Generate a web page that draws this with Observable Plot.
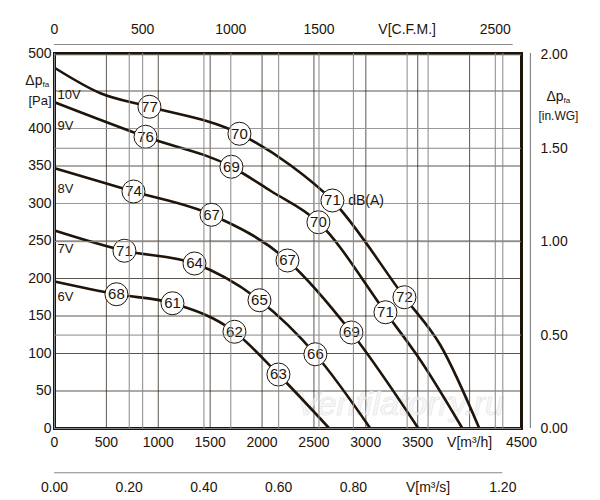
<!DOCTYPE html><html><head><meta charset="utf-8">
<script src="https://cdn.jsdelivr.net/npm/d3@7"></script>
<script src="https://cdn.jsdelivr.net/npm/@observablehq/plot@0.6"></script>
<style>body{margin:0;background:#fff}</style></head><body><div id="c"></div><script>
const curveNames=["10V","9V","8V","7V","6V"];
const flow={
"10V":[0,443,915,1782,2274,2678,3372,3719,4094],
"9V":[0,877,1705,2081,2543,3189,3526,3931],
"8V":[0,761,1513,2245,2861,3507],
"7V":[0,674,1349,1975,2514,3044],
"6V":[0,597,1137,1734,2158,2649]};
const pres={
"10V":[481,447,429,393,351,304,175,111,0],
"9V":[435,389,349,317,275,155,91,0],
"8V":[347,316,285,224,128,0],
"7V":[264,237,220,171,99,0],
"6V":[196,179,167,129,72,0]};
const dbX=[915,1782,2678,3372, 877,1705,2543,3189, 761,1513,2245,2861, 674,1349,1975,2514, 597,1137,1734,2158];
const dbY=[429,393,304,175, 389,349,275,155, 316,285,224,128, 237,220,171,99, 179,167,129,72];
const dbT=["77","70","71","72","76","69","70","71","74","67","67","69","71","64","65","66","68","61","62","63"];
const vY=[445,403,320,240,175];
const xTicks=[0,500,1000,1500,2000,2500,3000,3500,4500];
const cfmTicks=[0,500,1000,1500,2000,2500];
const m3sTicks=[0,0.2,0.4,0.6,0.8,1.0,1.2];
const wgTicks=[0,0.5,1,1.5,2];
const pts=curveNames.flatMap(n=>flow[n].map((x,i)=>({n,x,y:pres[n][i]})));
const col="#1e140a", font="Liberation Sans, Arial, sans-serif";
const CFM=1.699, M3S=3600, WG=249.09;
const topY=512, botY=-59, rightX=4586;
const txt=(data,o)=>Plot.text(data,{fontSize:14,fill:col,...o});
const plot=Plot.plot({width:600,height:500,marginLeft:54,marginRight:79,marginTop:53,marginBottom:72,
 style:{fontFamily:font,fontSize:14,color:col,overflow:"visible"},
 x:{domain:[0,4500],axis:null},y:{domain:[0,500],axis:null},
 marks:[
  Plot.gridX(d3.range(500,4500,500),{stroke:col,strokeOpacity:0.9,strokeWidth:0.8}),
  Plot.gridY(d3.range(50,500,50),{stroke:col,strokeOpacity:0.9,strokeWidth:0.8}),
  Plot.gridY([400,300],{stroke:"#999",strokeOpacity:1,strokeWidth:1.2}),
  Plot.text(["Ventilatorry.ru"],{x:3330,y:32,fontSize:34,fontStyle:"italic",fill:"#f2f2f2",stroke:"#d8d8d8",strokeWidth:0.6,fillOpacity:0.6}),
  Plot.line(pts,{x:"x",y:"y",z:"n",curve:"monotone-x",stroke:col,strokeWidth:2.6}),
  Plot.frame({stroke:col,strokeWidth:3}),
  Plot.dot(dbT,{x:(d,i)=>dbX[i],y:(d,i)=>dbY[i],r:11.5,fill:"white",stroke:col,strokeWidth:1}),
  txt(dbT,{x:(d,i)=>dbX[i],y:(d,i)=>dbY[i],fontSize:15}),
  txt(["dB(A)"],{x:2830,y:304,textAnchor:"start"}),
  txt(curveNames,{x:30,y:(d,i)=>vY[i],textAnchor:"start",fontSize:13}),
  txt(xTicks,{x:d=>d,y:0,dy:14,text:d=>String(d)}),
  txt(["V[m³/h]"],{x:4000,y:0,dy:14}),
  txt(d3.range(0,501,50).filter(d=>d!==450),{x:0,y:d=>d,dx:-3,textAnchor:"end",text:d=>String(d)}),
  txt(["Δp"],{x:0,y:457,dx:-12,textAnchor:"end",dy:-5}),
  txt(["fa"],{x:0,y:457,dx:-12,textAnchor:"start",dy:-1,fontSize:8}),
  txt(["[Pa]"],{x:0,y:437,dx:-3,textAnchor:"end",fontSize:13}),
  Plot.ruleY([topY],{x1:0,x2:4420,stroke:"#888",strokeWidth:1.2}),
  Plot.tickX(cfmTicks,{x:d=>d*CFM,y1:topY,y2:topY+11,stroke:"#888"}),
  txt(cfmTicks,{x:d=>d*CFM,y:topY,dy:-15,text:d=>d===2000?"V[C.F.M.]":String(d)}),
  Plot.ruleY([botY],{x1:0,x2:4320,stroke:"#888",strokeWidth:1.2}),
  Plot.tickX(m3sTicks,{x:d=>d*M3S,y1:botY,y2:botY+11,stroke:"#888"}),
  txt(m3sTicks,{x:d=>d*M3S,y:botY,dy:15,text:d=>d===1.0?"V[m³/s]":d.toFixed(2)}),
  Plot.ruleX([rightX],{y1:0,y2:500,stroke:"#888",strokeWidth:1.2}),
  Plot.tickY(wgTicks,{y:d=>d*WG,x1:rightX,x2:rightX+70,stroke:"#888"}),
  txt(wgTicks,{x:rightX,y:d=>d*WG,dx:10,textAnchor:"start",text:d=>d.toFixed(2)}),
  txt(["Δp"],{x:rightX,y:1.75*WG,dx:16,dy:-5,textAnchor:"start"}),
  txt(["fa"],{x:rightX,y:1.75*WG,dx:33,dy:-1,textAnchor:"start",fontSize:8}),
  txt(["[in.WG]"],{x:rightX,y:1.67*WG,dx:8,textAnchor:"start",fontSize:12})
 ]});
document.getElementById("c").append(plot);
</script></body></html>
